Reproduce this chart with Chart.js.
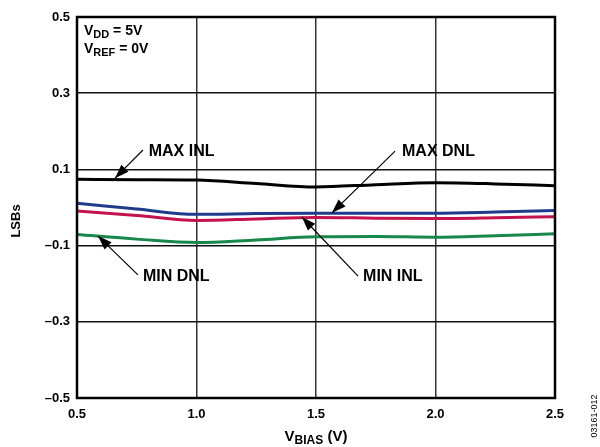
<!DOCTYPE html>
<html>
<head>
<meta charset="utf-8">
<script src="https://cdn.jsdelivr.net/npm/chart.js@4.4.0/dist/chart.umd.min.js"></script>
<style>
  body { margin: 0; background: #fff; }
  #wrap { width: 600px; height: 447px; }
</style>
</head>
<body>
<div id="wrap"><canvas id="myChart" width="600" height="447"></canvas></div>
<script>
// data
const vBias = [0.5, 0.75, 1.0, 1.25, 1.5, 1.75, 2.0, 2.25, 2.5];
const maxInl = [0.074, 0.073, 0.072, 0.063, 0.054, 0.060, 0.065, 0.062, 0.057];
const maxDnl = [0.011, -0.004, -0.018, -0.016, -0.015, -0.015, -0.015, -0.012, -0.008];
const minInl = [-0.009, -0.021, -0.034, -0.030, -0.026, -0.028, -0.029, -0.027, -0.024];
const minDnl = [-0.071, -0.083, -0.092, -0.085, -0.077, -0.076, -0.078, -0.074, -0.069];
const xTicks = [0.5, 1.0, 1.5, 2.0, 2.5];
const yTicks = [-0.5, -0.3, -0.1, 0.1, 0.3, 0.5];

// callouts: label, text anchor (data units), arrow start, arrow tip
const callouts = [
  ['MAX INL', [0.80, 0.148], [0.776, 0.151], [0.659, 0.077]],
  ['MAX DNL', [1.86, 0.148], [1.831, 0.148], [1.567, -0.014]],
  ['MIN DNL', [0.776, -0.182], [0.755, -0.177], [0.588, -0.075]],
  ['MIN INL', [1.697, -0.182], [1.676, -0.180], [1.441, -0.025]],
];

const FONT = 'Arial, "Liberation Sans", Helvetica, sans-serif';

function pts(ys) {
  return vBias.map((x, i) => ({ x: x, y: ys[i] }));
}

function series(data, color) {
  return {
    data: pts(data),
    borderColor: color,
    borderWidth: 3,
    pointRadius: 0,
    fill: false,
    cubicInterpolationMode: 'monotone',
  };
}

function subText(ctx, x, y, main, sub, rest, size) {
  ctx.font = 'bold ' + size + 'px ' + FONT;
  ctx.fillText(main, x, y);
  x += ctx.measureText(main).width;
  ctx.font = 'bold ' + Math.round(size * 0.78) + 'px ' + FONT;
  ctx.fillText(sub, x, y + 3);
  x += ctx.measureText(sub).width;
  ctx.font = 'bold ' + size + 'px ' + FONT;
  ctx.fillText(rest, x, y);
}

function arrow(ctx, x1, y1, x2, y2) {
  ctx.beginPath();
  ctx.moveTo(x1, y1);
  ctx.lineTo(x2, y2);
  ctx.lineWidth = 1.2;
  ctx.stroke();
  const a = Math.atan2(y2 - y1, x2 - x1);
  const len = 14, w = 5;
  ctx.beginPath();
  ctx.moveTo(x2, y2);
  ctx.lineTo(x2 - len * Math.cos(a) + w * Math.sin(a), y2 - len * Math.sin(a) - w * Math.cos(a));
  ctx.lineTo(x2 - len * Math.cos(a) - w * Math.sin(a), y2 - len * Math.sin(a) + w * Math.cos(a));
  ctx.closePath();
  ctx.fill();
}

const extras = {
  id: 'extras',
  afterDraw(chart) {
    const ctx = chart.ctx;
    const a = chart.chartArea;
    const sx = chart.scales.x, sy = chart.scales.y;
    ctx.save();
    ctx.fillStyle = '#000';
    ctx.strokeStyle = '#000';

    // frame
    ctx.lineWidth = 2.5;
    ctx.strokeRect(a.left, a.top, a.right - a.left, a.bottom - a.top);

    // conditions
    ctx.textBaseline = 'alphabetic';
    ctx.textAlign = 'left';
    subText(ctx, a.left + 7, 35, 'V', 'DD', ' = 5V', 14);
    subText(ctx, a.left + 7, 53, 'V', 'REF', ' = 0V', 14);

    // callouts
    callouts.forEach(function (c) {
      ctx.font = 'bold 16px ' + FONT;
      ctx.textBaseline = 'middle';
      ctx.fillText(c[0], sx.getPixelForValue(c[1][0]), sy.getPixelForValue(c[1][1]));
      arrow(ctx, sx.getPixelForValue(c[2][0]), sy.getPixelForValue(c[2][1]),
        sx.getPixelForValue(c[3][0]), sy.getPixelForValue(c[3][1]));
    });

    // axis titles
    ctx.textBaseline = 'alphabetic';
    ctx.font = 'bold 15px ' + FONT;
    let w = ctx.measureText('V (V)').width;
    ctx.font = 'bold 12px ' + FONT;
    w += ctx.measureText('BIAS').width;
    subText(ctx, (a.left + a.right) / 2 - w / 2, 441, 'V', 'BIAS', ' (V)', 15);

    ctx.save();
    ctx.translate(20, 221);
    ctx.rotate(-Math.PI / 2);
    ctx.textAlign = 'center';
    ctx.font = 'bold 13px ' + FONT;
    ctx.fillText('LSBs', 0, 0);
    ctx.restore();

    ctx.save();
    ctx.translate(597, 416);
    ctx.rotate(-Math.PI / 2);
    ctx.textAlign = 'center';
    ctx.font = '9px ' + FONT;
    ctx.fillText('03161-012', 0, 0);
    ctx.restore();

    ctx.restore();
  },
};

const config = {
  type: 'line',
  data: {
    datasets: [
      series(maxInl, '#000000'),
      series(maxDnl, '#1f3c8c'),
      series(minInl, '#c3124c'),
      series(minDnl, '#17874a'),
    ],
  },
  options: {
    responsive: false,
    animation: false,
    layout: { padding: { top: 17, right: 45, left: 0, bottom: 0 } },
    plugins: { legend: { display: false }, tooltip: { enabled: false } },
    scales: {
      x: {
        type: 'linear',
        min: 0.5,
        max: 2.5,
        afterBuildTicks: function (s) { s.ticks = xTicks.map(v => ({ value: v })); },
        afterFit: function (s) { s.height = 49; },
        border: { display: false },
        grid: { color: '#333', lineWidth: 1.5, drawTicks: false },
        ticks: {
          color: '#000',
          padding: 9,
          font: { family: FONT, size: 13, weight: 'bold' },
          callback: v => v.toFixed(1),
        },
      },
      y: {
        min: -0.5,
        max: 0.5,
        afterBuildTicks: function (s) { s.ticks = yTicks.map(v => ({ value: v })); },
        afterFit: function (s) { s.width = 77; },
        border: { display: false },
        grid: { color: '#111', lineWidth: 1.5, drawTicks: false },
        ticks: {
          color: '#000',
          padding: 7,
          font: { family: FONT, size: 13, weight: 'bold' },
          callback: v => v.toFixed(1).replace('-', '\u2013'),
        },
      },
    },
  },
  plugins: [extras],
};

const myChart = new Chart(document.getElementById('myChart'), config);
</script>
</body>
</html>
